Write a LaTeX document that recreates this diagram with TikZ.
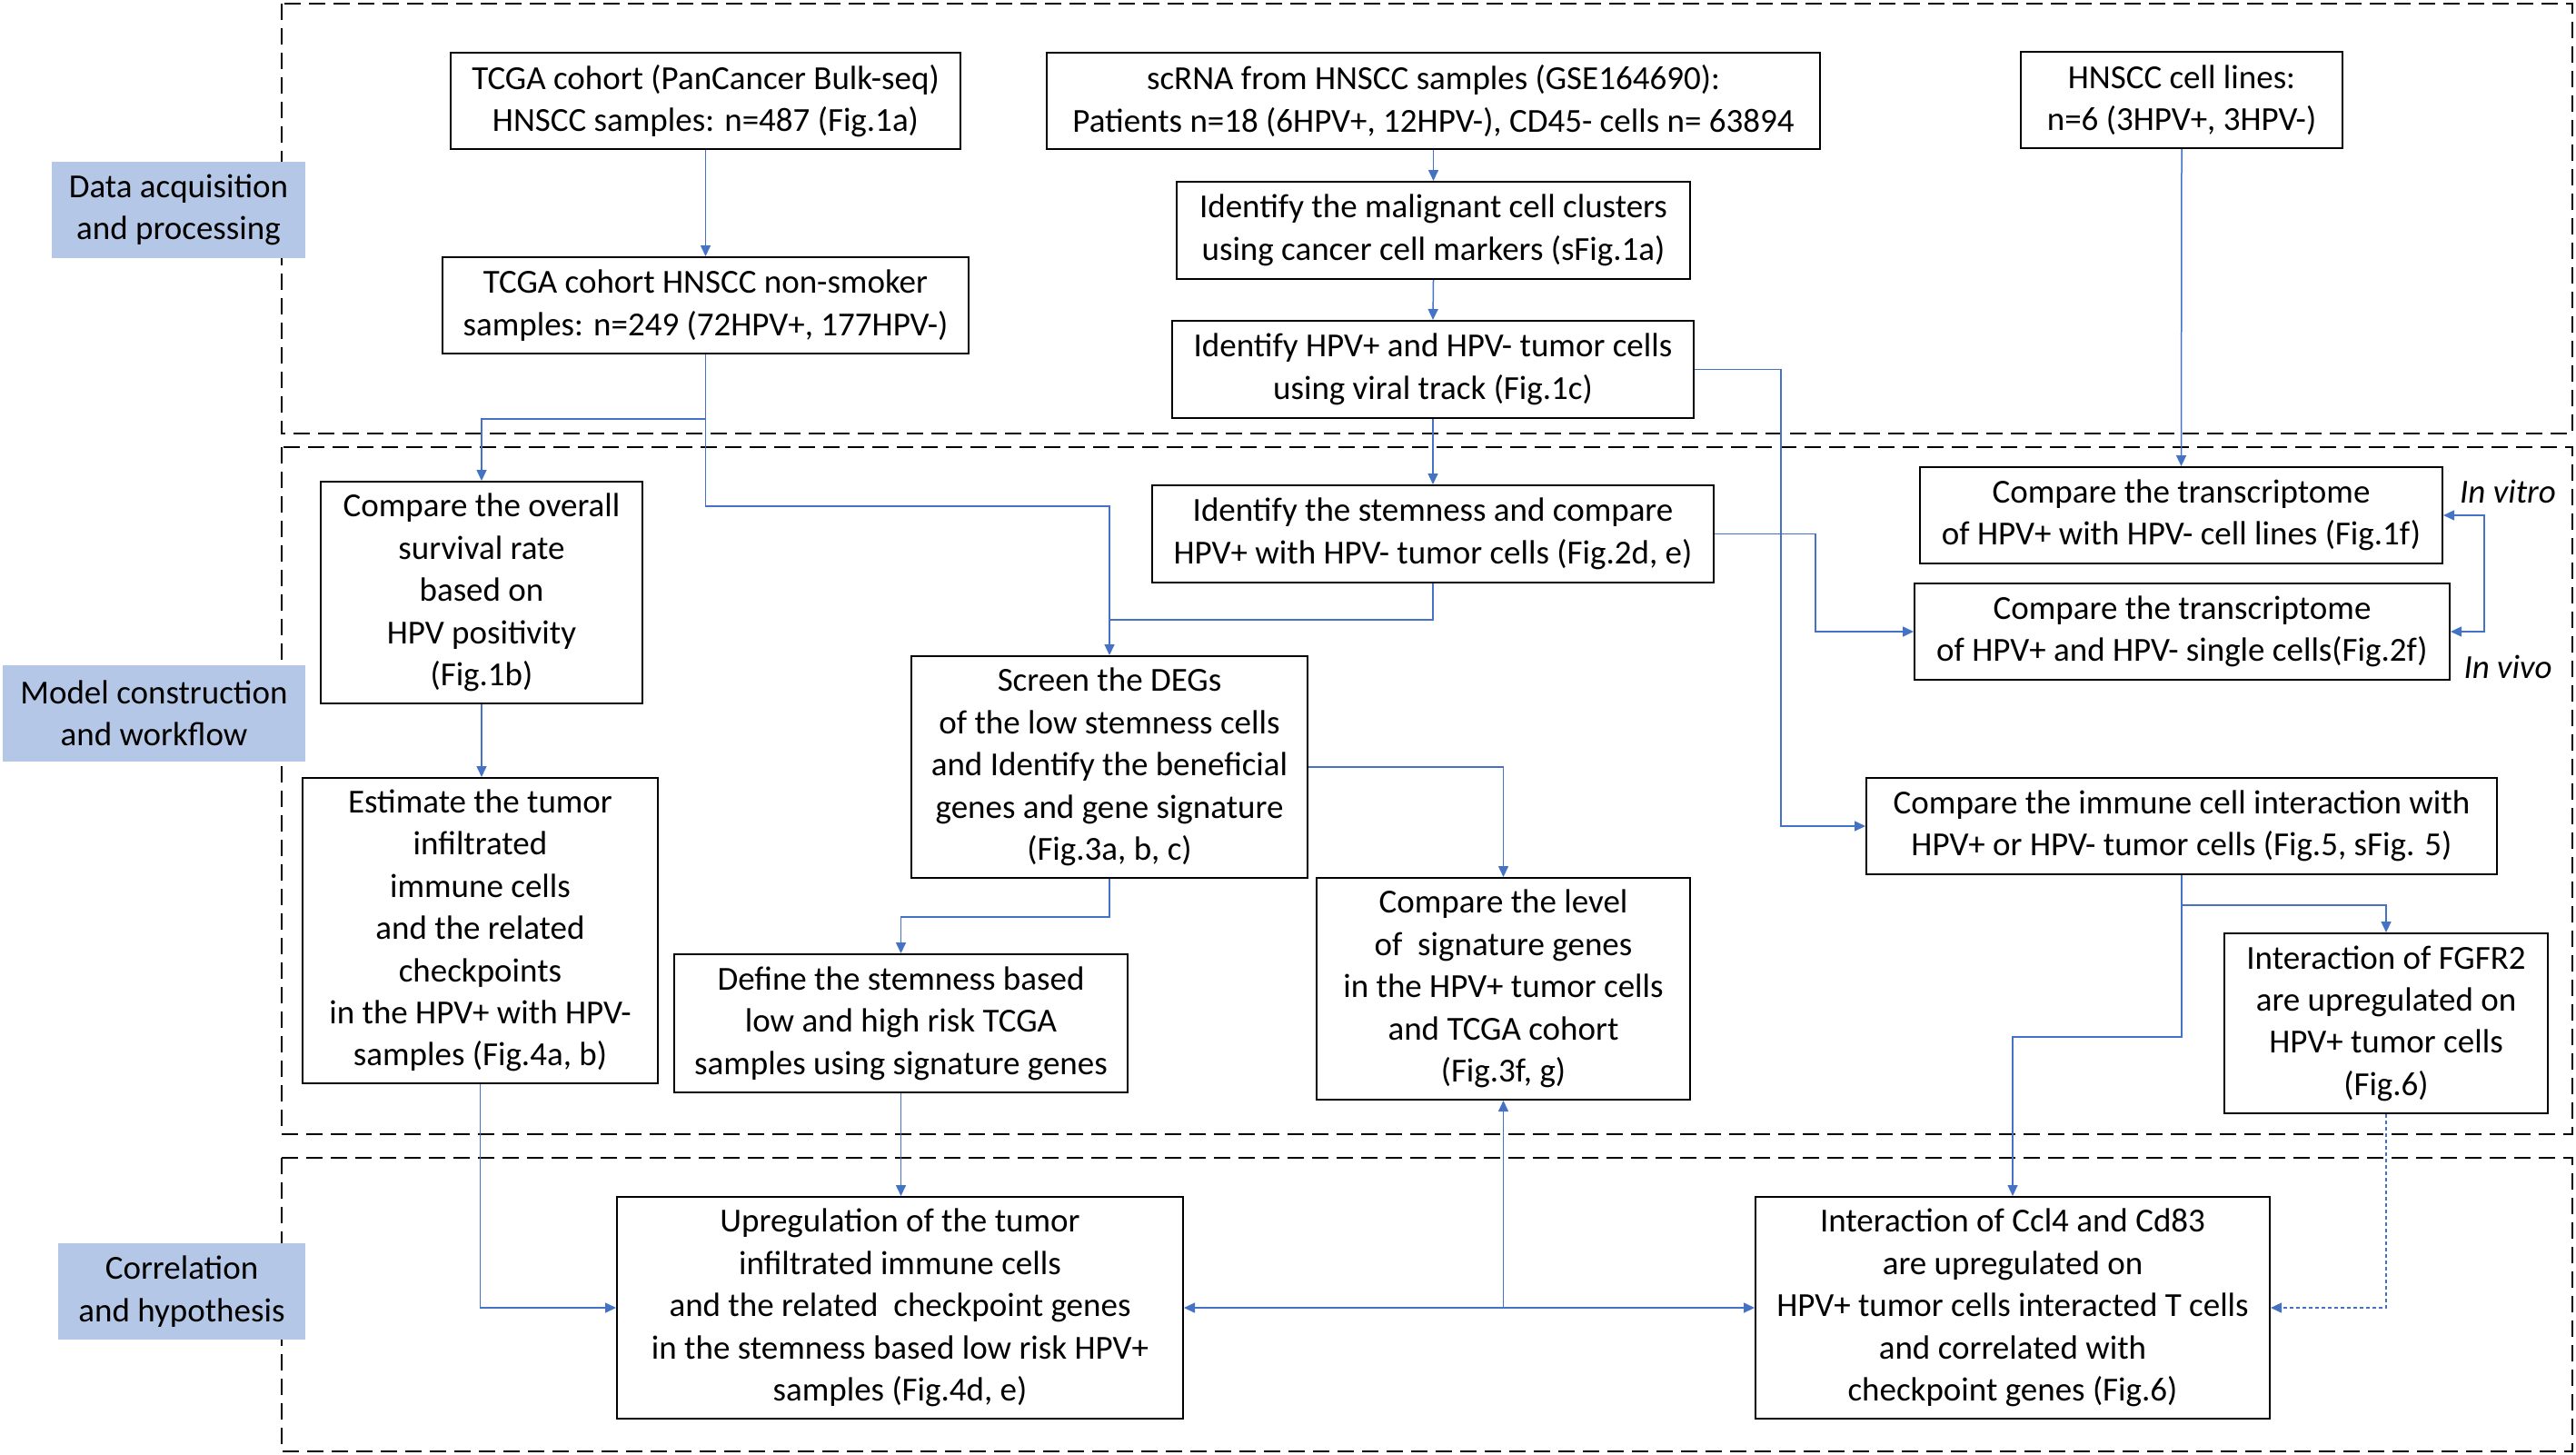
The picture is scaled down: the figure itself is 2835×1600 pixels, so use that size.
\documentclass[tikz,border=0pt]{standalone}
\usepackage{fontspec}
\setmainfont{Carlito}
\usetikzlibrary{arrows.meta,calc}
\definecolor{conncol}{HTML}{4472C4}
\definecolor{labfill}{HTML}{B4C7E7}
\newcommand\mybx[7][box]{\node[#1, minimum width={(#5-#3)*0.5pt}, minimum height={(#6-#4)*0.5pt}] (#2) at ({(#3+#5)/2},{(#4+#6)/2}) {#7};}
\tikzset{
  box/.style={draw=black, line width=1pt, fill=white, inner sep=1pt, align=center, font=\fontsize{18.5}{23.2}\selectfont},
  lab/.style={fill=labfill, inner sep=1pt, align=center, font=\fontsize{18.5}{23.2}\selectfont},
  sect/.style={draw=black, line width=1.3pt, dash pattern=on 9pt off 4.5pt},
  bl/.style={draw=conncol, line width=0.75pt},
  conn/.style={bl, -{Triangle[length=6pt,width=5.5pt]}},
  dconn/.style={bl, dash pattern=on 2pt off 1.5pt, -{Triangle[length=6pt,width=5.5pt]}},
  side/.style={font=\fontsize{18.5}{23.2}\selectfont\itshape}
}
\begin{document}
\begin{tikzpicture}[x=0.5pt,y=-0.5pt]
\useasboundingbox (0,0) rectangle (2835,1600);
% section frames
\draw[sect] (310,4) rectangle (2831,477);
\draw[sect] (310,492) rectangle (2831,1248);
\draw[sect] (310,1274) rectangle (2831,1597);
% section labels
\mybx[lab]{lab1}{57}{178}{336}{284}{Data acquisition\\and processing}
\mybx[lab]{lab2}{3}{732}{336}{838}{Model construction\\and workflow}
\mybx[lab]{lab3}{64}{1368}{336}{1474}{Correlation\\and hypothesis}
% boxes
\mybx{tcga1}{496}{58}{1057}{164}{TCGA cohort (PanCancer Bulk-seq)\\HNSCC samples: n=487 (Fig.1a)}
\mybx{tcga2}{487}{283}{1066}{389}{TCGA cohort HNSCC non-smoker\\samples: n=249 (72HPV+, 177HPV-)}
\mybx{scrna}{1152}{58}{2003}{164}{scRNA from HNSCC samples (GSE164690):\\Patients n=18 (6HPV+, 12HPV-), CD45- cells n= 63894}
\mybx{malig}{1295}{200}{1860}{307}{Identify the malignant cell clusters\\using cancer cell markers (sFig.1a)}
\mybx{hpv}{1290}{353}{1864}{460}{Identify HPV+ and HPV- tumor cells\\using viral track (Fig.1c)}
\mybx{cells}{2224}{57}{2578}{163}{HNSCC cell lines:\\n=6 (3HPV+, 3HPV-)}
\mybx{surv}{353}{530}{707}{774}{Compare the overall\\survival rate\\based on\\HPV positivity\\(Fig.1b)}
\mybx{stem}{1268}{534}{1886}{641}{Identify the stemness and compare\\HPV+ with HPV- tumor cells (Fig.2d, e)}
\mybx{vitro}{2113}{514}{2688}{620}{Compare the transcriptome\\of HPV+ with HPV- cell lines (Fig.1f)}
\mybx{vivo}{2107}{642}{2696}{748}{Compare the transcriptome\\of HPV+ and HPV- single cells(Fig.2f)}
\mybx{est}{333}{856}{724}{1192}{Estimate the tumor\\infiltrated\\immune cells\\and the related\\checkpoints\\in the HPV+ with HPV-\\samples (Fig.4a, b)}
\mybx{screen}{1003}{722}{1439}{966}{Screen the DEGs\\of the low stemness cells\\and Identify the beneficial\\genes and gene signature\\(Fig.3a, b, c)}
\mybx{immune}{2054}{856}{2748}{962}{Compare the immune cell interaction with\\HPV+ or HPV- tumor cells (Fig.5, sFig. 5)}
\mybx{level}{1449}{966}{1860}{1210}{Compare the level\\of\ \ signature genes\\in the HPV+ tumor cells\\and TCGA cohort\\(Fig.3f, g)}
\mybx{define}{742}{1050}{1241}{1202}{Define the stemness based\\low and high risk TCGA\\samples using signature genes}
\mybx{fgfr}{2448}{1027}{2804}{1225}{Interaction of FGFR2\\are upregulated on\\HPV+ tumor cells\\(Fig.6)}
\mybx{upreg}{679}{1317}{1302}{1561}{Upregulation of the tumor\\infiltrated immune cells\\and the related\ \ checkpoint genes\\in the stemness based low risk HPV+\\samples (Fig.4d, e)}
\mybx{ccl4}{1932}{1317}{2498}{1561}{Interaction of Ccl4 and Cd83\\are upregulated on\\HPV+ tumor cells interacted T cells\\and correlated with\\checkpoint genes (Fig.6)}
% side labels
\node[side] (invitro) at (2760,541) {In vitro};
\node[side] (invivo) at (2760,734) {In vivo};
% connectors
\draw[conn] (tcga1.south) -- (tcga2.north);
\draw[conn] (tcga2.south) -- ++(0,71) -| (surv.north);
\draw[conn] (tcga2.south) -- ++(0,167) -| (screen.north);
\draw[conn] (scrna.south) -- (malig.north);
\draw[conn] (malig.south) -- (hpv.north);
\draw[conn] (hpv.south) -- (stem.north);
\draw[conn] (hpv.east) -- ++(95,0) |- (immune.west);
\draw[conn] (cells.south) -- (vitro.north);
\draw[bl] (stem.south) -- ++(0,40) coordinate (h1) -- (h1 -| screen.north);
\draw[conn] (stem.east) -- ++(111,0) |- (vivo.west);
\draw[bl, {Triangle[length=6pt,width=5.5pt]}-{Triangle[length=6pt,width=5.5pt]}] (vitro.east) -- ++(45,0) |- (vivo.east);
\draw[conn] (screen.east) -| (level.north);
\draw[conn] (screen.south) -- ++(0,42) -| (define.north);
\draw[conn] (surv.south) -- (surv.south |- est.north);
\draw[conn] (est.south) |- (upreg.west);
\draw[conn] (define.south) -- (define.south |- upreg.north);
\coordinate (J) at (level.south |- upreg.east);
\draw[conn] (J) -- (upreg.east);
\draw[conn] (J) -- (ccl4.west);
\draw[conn] (J) -- (level.south);
\draw[conn] (immune.south) -- ++(0,33) -| (fgfr.north);
\draw[conn] (immune.south) -- ++(0,178) -| (ccl4.north);
\draw[dconn] (fgfr.south) |- (ccl4.east);
\end{tikzpicture}
\end{document}
